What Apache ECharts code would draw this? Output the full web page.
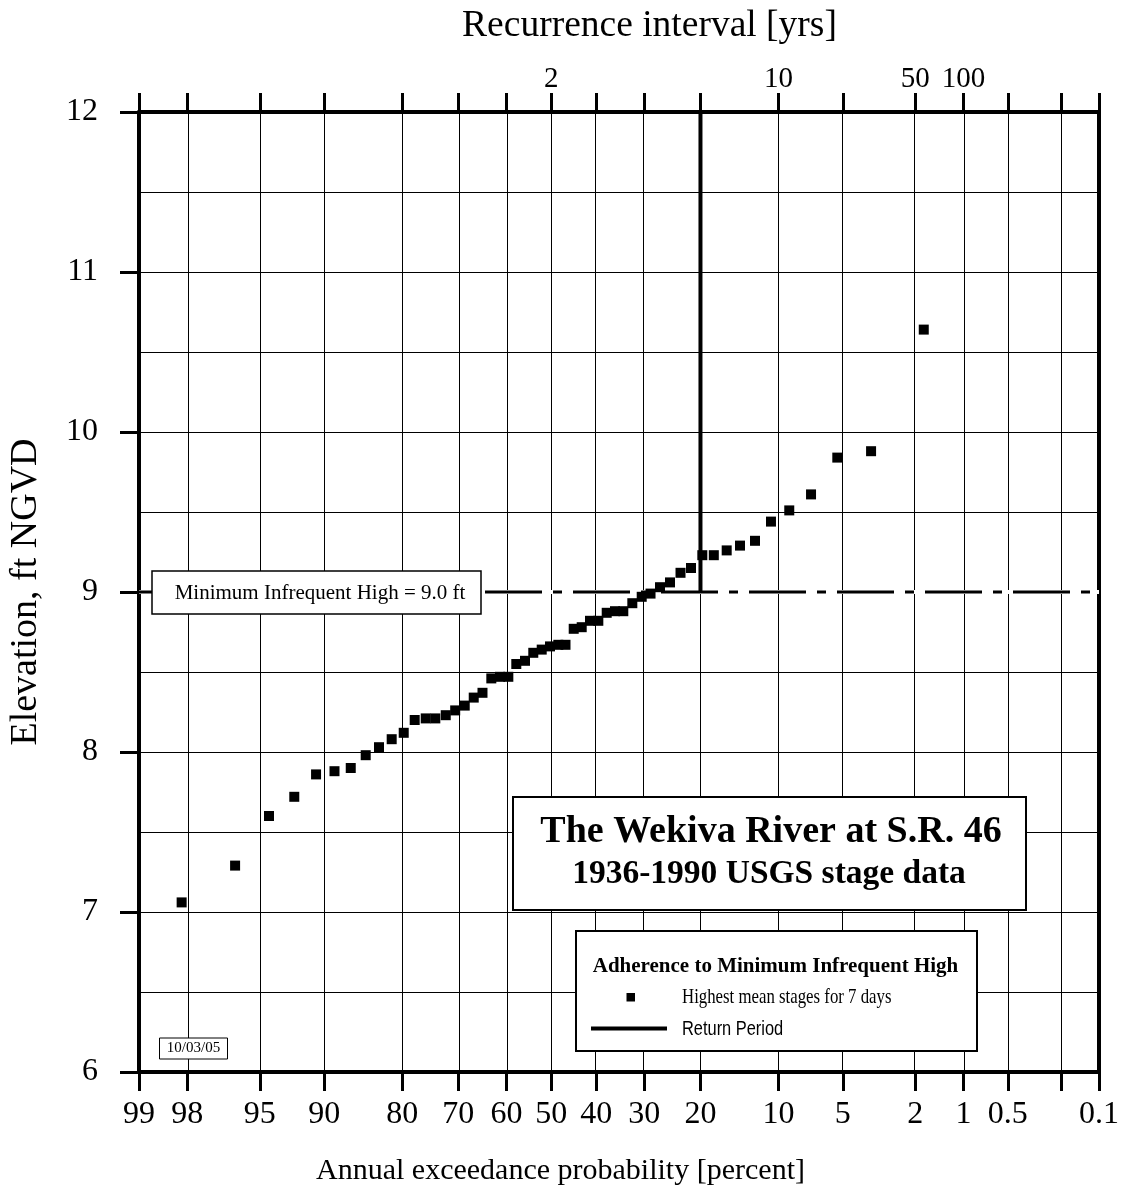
<!DOCTYPE html>
<html>
<head>
<meta charset="utf-8">
<script src="https://cdn.jsdelivr.net/npm/echarts@6/dist/echarts.min.js"></script>
<style>
  html, body { margin: 0; padding: 0; background: #fff; }
  #chart { width: 1123px; height: 1197px; }
</style>
</head>
<body>
<div id="chart"></div>
<script>
// Probability-paper ticks (annual exceedance, percent)
const probTicks = [99, 98, 95, 90, 80, 70, 60, 50, 40, 30, 20, 10, 5, 2, 1, 0.5, 0.2, 0.1];
const probLabels = [99, 98, 95, 90, 80, 70, 60, 50, 40, 30, 20, 10, 5, 2, 1, 0.5, 0.1];
// Recurrence interval labels on the top axis (years)
const recurrenceYears = [2, 10, 50, 100];
// Elevation axis range (ft NGVD)
const elevMin = 6;
const elevMax = 12;

// Annual highest 7-day mean stage, ranked, with plotting position (exceedance %)
const exceedancePct = [98.15, 96.28, 94.44, 92.65, 90.78, 88.94, 87.11, 85.25, 83.45, 81.61,
  79.75, 77.96, 76.07, 74.36, 72.43, 70.62, 68.74, 66.92, 65.11, 63.25,
  61.39, 59.58, 57.83, 55.90, 54.05, 52.16, 50.29, 48.42, 46.81, 44.97,
  43.19, 41.36, 39.54, 37.73, 35.97, 34.23, 32.38, 30.50, 28.78, 26.98,
  25.15, 23.30, 21.53, 19.71, 17.96, 16.12, 14.35, 12.52, 10.76, 8.97,
  7.14, 5.33, 3.56, 1.78];
const stageFt = [7.06, 7.29, 7.60, 7.72, 7.86, 7.88, 7.90, 7.98, 8.03, 8.08,
  8.12, 8.20, 8.21, 8.21, 8.23, 8.26, 8.29, 8.34, 8.37, 8.46,
  8.47, 8.47, 8.55, 8.57, 8.62, 8.64, 8.66, 8.67, 8.67, 8.77,
  8.78, 8.82, 8.82, 8.87, 8.88, 8.88, 8.93, 8.97, 8.99, 9.03,
  9.06, 9.12, 9.15, 9.23, 9.23, 9.26, 9.29, 9.32, 9.44, 9.51,
  9.61, 9.84, 9.88, 10.64];

// Criterion: Minimum Infrequent High and its 5-year return period (20 %)
const minInfrequentHigh = 9.0;
const returnPeriodPct = 20;
// the criterion line runs on past the right frame to this exceedance
const criterionEndPct = 0.05;

// Inverse standard normal CDF (Acklam's rational approximation)
function normInv(p) {
  const a = [-3.969683028665376e+01, 2.209460984245205e+02, -2.759285104469687e+02,
             1.383577518672690e+02, -3.066479806614716e+01, 2.506628277459239e+00];
  const b = [-5.447609879822406e+01, 1.615858368580409e+02, -1.556989798598866e+02,
             6.680131188771972e+01, -1.328068155288572e+01];
  const c = [-7.784894002430293e-03, -3.223964580411365e-01, -2.400758277161838e+00,
             -2.549732539343734e+00, 4.374664141464968e+00, 2.938163982698783e+00];
  const d = [7.784695709041462e-03, 3.224671290700398e-01, 2.445134137142996e+00,
             3.754408661907416e+00];
  const plow = 0.02425, phigh = 1 - plow;
  let q, r;
  if (p < plow) {
    q = Math.sqrt(-2 * Math.log(p));
    return (((((c[0]*q+c[1])*q+c[2])*q+c[3])*q+c[4])*q+c[5]) /
           ((((d[0]*q+d[1])*q+d[2])*q+d[3])*q+1);
  }
  if (p <= phigh) {
    q = p - 0.5; r = q * q;
    return (((((a[0]*r+a[1])*r+a[2])*r+a[3])*r+a[4])*r+a[5])*q /
           (((((b[0]*r+b[1])*r+b[2])*r+b[3])*r+b[4])*r+1);
  }
  q = Math.sqrt(-2 * Math.log(1 - p));
  return -(((((c[0]*q+c[1])*q+c[2])*q+c[3])*q+c[4])*q+c[5]) /
          ((((d[0]*q+d[1])*q+d[2])*q+d[3])*q+1);
}
// exceedance percent -> normal-probability axis coordinate
const pz = pct => normInv(1 - pct / 100);

const xMin = pz(probTicks[0]);
const xMax = pz(probTicks[probTicks.length - 1]);

function nearestLabel(v, list, toPct) {
  let best = list[0], bd = Infinity;
  list.forEach(item => {
    const dd = Math.abs(pz(toPct(item)) - v);
    if (dd < bd) { bd = dd; best = item; }
  });
  return String(best);
}

const SERIF = 'Liberation Serif';

const chart = echarts.init(document.getElementById('chart'), null, { renderer: 'canvas' });

const option = {
  animation: false,
  backgroundColor: '#fff',
  grid: { left: 139, right: 24, top: 112, bottom: 125, containLabel: false, outerBoundsMode: 'none' },
  xAxis: [
    {
      type: 'value', position: 'bottom', min: xMin, max: xMax,
      axisLine: { show: true, onZero: false, lineStyle: { color: '#000', width: 4 } },
      axisTick: { show: true, inside: false, length: 19, lineStyle: { color: '#000', width: 3 },
                  customValues: probTicks.map(pz) },
      axisLabel: { customValues: probLabels.map(pz), formatter: v => nearestLabel(v, probLabels, p => p),
                   color: '#000', fontFamily: SERIF, fontSize: 32, margin: 27, hideOverlap: false },
      splitLine: { show: false },
      name: 'Annual exceedance probability [percent]', nameLocation: 'middle', nameGap: 84,
      nameTextStyle: { color: '#000', fontFamily: SERIF, fontSize: 30, padding: [0, 117, 0, 0] }
    },
    {
      type: 'value', position: 'top', min: xMin, max: xMax,
      axisLine: { show: true, onZero: false, lineStyle: { color: '#000', width: 4 } },
      axisTick: { show: true, inside: false, length: 19, lineStyle: { color: '#000', width: 3 },
                  customValues: probTicks.map(pz) },
      axisLabel: { customValues: recurrenceYears.map(t => pz(100 / t)),
                   formatter: v => nearestLabel(v, recurrenceYears, t => 100 / t),
                   color: '#000', fontFamily: SERIF, fontSize: 29, margin: 18, hideOverlap: false },
      splitLine: { show: false },
      name: 'Recurrence interval [yrs]', nameLocation: 'middle', nameGap: 67,
      nameTextStyle: { color: '#000', fontFamily: SERIF, fontSize: 37.5, padding: [0, 0, 0, 61] }
    }
  ],
  yAxis: [
    {
      type: 'value', position: 'left', min: elevMin, max: elevMax, interval: 1,
      axisLine: { show: true, onZero: false, lineStyle: { color: '#000', width: 4 } },
      axisTick: { show: true, inside: false, length: 19, lineStyle: { color: '#000', width: 3 } },
      axisLabel: { color: '#000', fontFamily: SERIF, fontSize: 32, margin: 41 },
      splitLine: { show: true, lineStyle: { color: '#000', width: 1 } },
      minorTick: { show: false, splitNumber: 2 },
      minorSplitLine: { show: true, lineStyle: { color: '#000', width: 1 } },
      name: 'Elevation, ft NGVD', nameLocation: 'middle', nameGap: 94, nameRotate: 90,
      nameTextStyle: { color: '#000', fontFamily: SERIF, fontSize: 38 }
    },
    {
      type: 'value', position: 'right', min: elevMin, max: elevMax, interval: 1,
      axisLine: { show: true, onZero: false, lineStyle: { color: '#000', width: 4 } },
      axisTick: { show: false }, axisLabel: { show: false }, splitLine: { show: false }
    }
  ],
  series: [
    {
      // white band under the criterion line so its gaps read as blank
      name: 'criterion underlay', type: 'line', xAxisIndex: 0, yAxisIndex: 0,
      data: [[xMin, minInfrequentHigh], [xMax, minInfrequentHigh]],
      showSymbol: false, symbol: 'none', silent: true, z: 2,
      lineStyle: { color: '#fff', width: 4 },
      markLine: {
        silent: true, symbol: ['none', 'none'], z: 1, animation: false,
        label: { show: false },
        lineStyle: { color: '#000', width: 1, type: 'solid' },
        emphasis: { disabled: true },
        data: probTicks.slice(1, -1).map(p => ({ xAxis: pz(p) }))
      }
    },
    {
      name: 'Minimum Infrequent High', type: 'line', xAxisIndex: 0, yAxisIndex: 0,
      data: [[xMin, minInfrequentHigh], [pz(criterionEndPct), minInfrequentHigh]],
      showSymbol: false, symbol: 'none', silent: true, z: 3, clip: false,
      lineStyle: { color: '#000', width: 3, type: [57, 11, 9, 11], dashOffset: 6 }
    },
    {
      name: 'Return Period', type: 'line', xAxisIndex: 0, yAxisIndex: 0,
      data: [[pz(returnPeriodPct), minInfrequentHigh], [pz(returnPeriodPct), elevMax]],
      showSymbol: false, symbol: 'none', silent: true, z: 4,
      lineStyle: { color: '#000', width: 4 }
    },
    {
      name: 'Highest mean stages for 7 days', type: 'scatter', xAxisIndex: 0, yAxisIndex: 0,
      data: exceedancePct.map((p, i) => [pz(p), stageFt[i]]),
      symbol: 'rect', symbolSize: 10, z: 10,
      itemStyle: { color: '#000', opacity: 1 }
    }
  ],
  graphic: [
    // criterion label
    { type: 'rect', z: 100, shape: { x: 152, y: 571, width: 329, height: 43 },
      style: { fill: '#fff', stroke: '#000', lineWidth: 1.5 } },
    { type: 'text', z: 101, x: 320, y: 593,
      style: { text: 'Minimum Infrequent High = 9.0 ft', font: '21px "Liberation Serif"',
               fill: '#000', textAlign: 'center', textVerticalAlign: 'middle' } },
    // title block
    { type: 'rect', z: 100, shape: { x: 513, y: 797, width: 513, height: 113 },
      style: { fill: '#fff', stroke: '#000', lineWidth: 2 } },
    { type: 'text', z: 101, x: 771, y: 832,
      style: { text: 'The Wekiva River at S.R. 46', font: 'bold 38px "Liberation Serif"',
               fill: '#000', textAlign: 'center', textVerticalAlign: 'middle' } },
    { type: 'text', z: 101, x: 769, y: 874,
      style: { text: '1936-1990 USGS stage data', font: 'bold 33.5px "Liberation Serif"',
               fill: '#000', textAlign: 'center', textVerticalAlign: 'middle' } },
    // legend block
    { type: 'rect', z: 100, shape: { x: 576, y: 931, width: 401, height: 120 },
      style: { fill: '#fff', stroke: '#000', lineWidth: 2 } },
    { type: 'text', z: 101, x: 775.5, y: 967,
      style: { text: 'Adherence to Minimum Infrequent High', font: 'bold 21px "Liberation Serif"',
               fill: '#000', textAlign: 'center', textVerticalAlign: 'middle' } },
    { type: 'rect', z: 101, shape: { x: 626.5, y: 993, width: 8.5, height: 8.5 },
      style: { fill: '#000' } },
    { type: 'text', z: 101, x: 682, y: 997, scaleX: 0.8, originX: 0, originY: 0,
      style: { text: 'Highest mean stages for 7 days', font: '21px "Liberation Serif"',
               fill: '#000', textAlign: 'left', textVerticalAlign: 'middle' } },
    { type: 'line', z: 101, shape: { x1: 591, y1: 1028.5, x2: 667, y2: 1028.5 },
      style: { stroke: '#000', lineWidth: 4 } },
    { type: 'text', z: 101, x: 682, y: 1029.5, scaleX: 0.82, originX: 0, originY: 0,
      style: { text: 'Return Period', font: '20px "Liberation Sans"',
               fill: '#000', textAlign: 'left', textVerticalAlign: 'middle' } },
    // date stamp
    { type: 'rect', z: 100, shape: { x: 159.5, y: 1038, width: 68, height: 21 },
      style: { fill: '#fff', stroke: '#000', lineWidth: 1 } },
    { type: 'text', z: 101, x: 193.5, y: 1048.5,
      style: { text: '10/03/05', font: '15px "Liberation Serif"',
               fill: '#000', textAlign: 'center', textVerticalAlign: 'middle' } }
  ]
};

chart.setOption(option);
</script>
</body>
</html>
